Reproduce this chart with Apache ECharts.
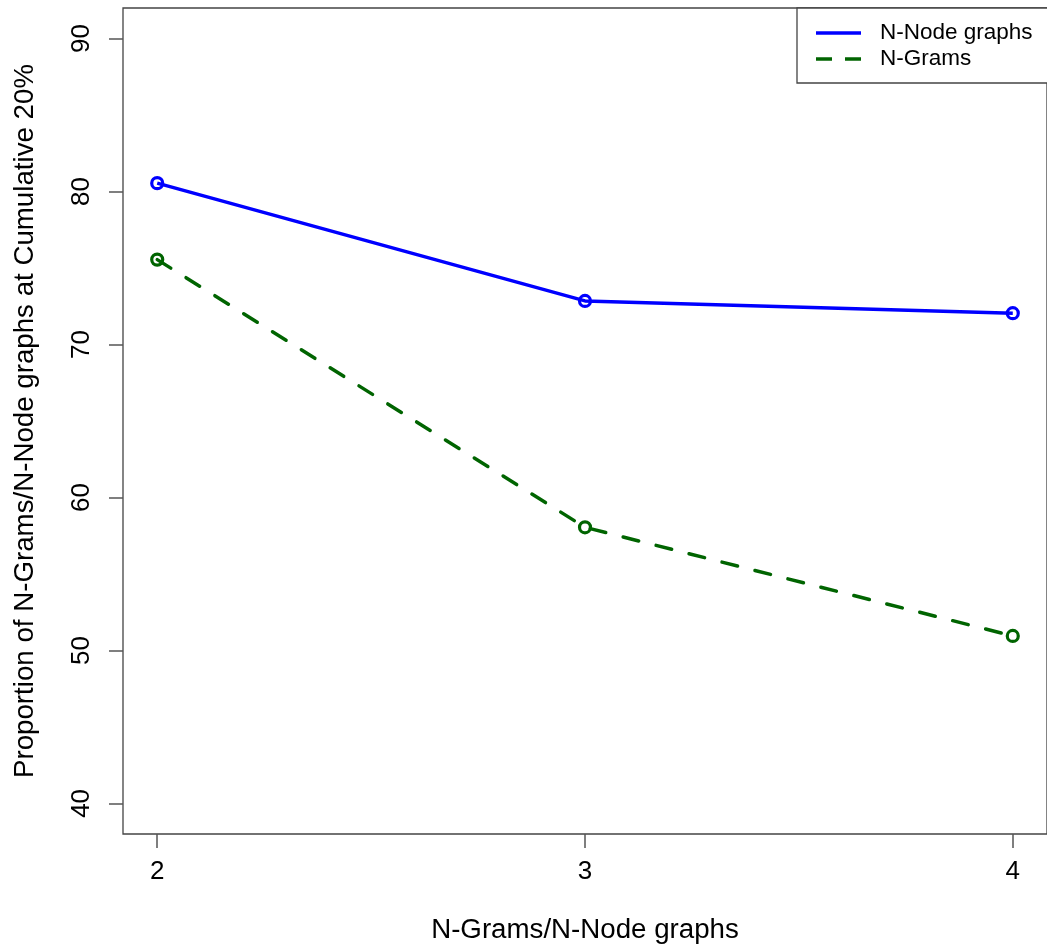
<!DOCTYPE html>
<html>
<head>
<meta charset="utf-8">
<script src="https://cdn.jsdelivr.net/npm/echarts@6/dist/echarts.min.js"></script>
<style>
html,body{margin:0;padding:0;background:#fff;}
#c{width:1047px;height:949px;}
</style>
</head>
<body>
<div id="c"></div>
<script>
const xValues = [2, 3, 4];
const nodeValues = [80.55, 72.85, 72.05];
const gramValues = [75.55, 58.05, 50.95];
const yTicks = [40, 50, 60, 70, 80, 90];
const xTicks = [2, 3, 4];
const seriesNames = ['N-Node graphs', 'N-Grams'];
const xTitle = 'N-Grams/N-Node graphs';
const yTitle = 'Proportion of N-Grams/N-Node graphs at Cumulative 20%';

const FONT = '"Liberation Sans", Arial, Helvetica, sans-serif';
const chart = echarts.init(document.getElementById('c'), null, {renderer: 'canvas'});

const pairs = vals => xValues.map((x, i) => [x, vals[i]]);

chart.setOption({
  animation: false,
  backgroundColor: '#fff',
  grid: {
    left: 123, top: 8, width: 924, height: 827,
    show: true, borderColor: '#444', borderWidth: 1.3, backgroundColor: 'transparent'
  },
  xAxis: {
    type: 'value', min: 1.92, max: 4.08,
    axisLine: {show: false},
    splitLine: {show: false},
    axisTick: {show: true, customValues: xTicks, length: 14, lineStyle: {color: '#555', width: 1.5}},
    axisLabel: {customValues: xTicks, margin: 25, fontSize: 26, color: '#000', fontFamily: FONT},
    name: xTitle, nameLocation: 'middle', nameGap: 82,
    nameTextStyle: {fontSize: 27.7, color: '#000', fontFamily: FONT}
  },
  yAxis: {
    type: 'value', min: 38, max: 92,
    axisLine: {show: false},
    splitLine: {show: false},
    axisTick: {show: true, customValues: yTicks, length: 14, lineStyle: {color: '#555', width: 1.5}},
    axisLabel: {customValues: yTicks, margin: 28, rotate: 90, fontSize: 26, color: '#000', fontFamily: FONT},
    name: yTitle, nameLocation: 'middle', nameGap: 84,
    nameTextStyle: {fontSize: 27.7, color: '#000', fontFamily: FONT}
  },
  series: [
    {
      name: seriesNames[0], type: 'line', data: pairs(nodeValues),
      symbol: 'circle', symbolSize: 11,
      lineStyle: {color: '#0000ff', width: 3.5},
      itemStyle: {color: 'rgba(255,255,255,0)', borderColor: '#0000ff', borderWidth: 3.2}
    },
    {
      name: seriesNames[1], type: 'line', data: pairs(gramValues),
      symbol: 'circle', symbolSize: 11,
      lineStyle: {color: '#006400', width: 3.5, type: [16, 18], cap: 'round'},
      itemStyle: {color: 'rgba(255,255,255,0)', borderColor: '#006400', borderWidth: 3.2}
    }
  ],
  graphic: [
    {type: 'rect', shape: {x: 797, y: 8, width: 252, height: 75}, style: {fill: '#fff', stroke: '#444', lineWidth: 1.3}, z: 100},
    {type: 'line', shape: {x1: 816, y1: 33, x2: 861, y2: 33}, style: {stroke: '#0000ff', lineWidth: 3.5}, z: 101},
    {type: 'line', shape: {x1: 816, y1: 59, x2: 861, y2: 59}, style: {stroke: '#006400', lineWidth: 3.5, lineDash: [16, 13]}, z: 101},
    {type: 'text', x: 880, y: 33, style: {text: seriesNames[0], fontSize: 22.5, fill: '#000', fontFamily: FONT, verticalAlign: 'middle'}, z: 101},
    {type: 'text', x: 880, y: 59, style: {text: seriesNames[1], fontSize: 22.5, fill: '#000', fontFamily: FONT, verticalAlign: 'middle'}, z: 101}
  ]
});
</script>
</body>
</html>
